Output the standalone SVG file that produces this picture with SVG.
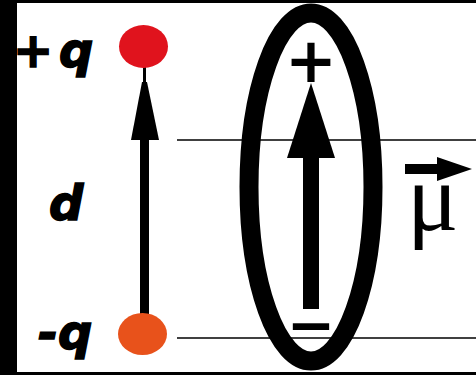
<svg xmlns="http://www.w3.org/2000/svg" width="476" height="375" viewBox="0 0 476 375">
  <style>
    .lbl { font-family: "DejaVu Sans", "Liberation Sans", sans-serif; font-weight: bold; font-style: italic; font-size: 48px; fill: #000; stroke: #000; stroke-width: 1.5px; }
    .sign { font-family: "DejaVu Sans", "Liberation Sans", sans-serif; font-weight: bold; fill: #000; text-anchor: middle; }
    .rule { stroke: #000; stroke-width: 1.5; fill: none; }
    .blk { fill: #000; }
  </style>
  <rect x="0" y="0" width="476" height="375" fill="#fff"/>
  <g id="frame">
    <rect class="blk" x="0" y="0" width="17" height="375"/>
    <rect class="blk" x="0" y="0" width="476" height="3"/>
    <rect class="blk" x="0" y="372" width="476" height="3"/>
  </g>
  <g id="guides">
    <line class="rule" x1="177" y1="140" x2="476" y2="140"/>
    <line class="rule" x1="177" y1="338" x2="476" y2="338"/>
  </g>
  <g id="connectors">
    <rect class="blk" x="143" y="66" width="3" height="16"/>
    <polygon class="blk" points="142,82 147,82 159,140 131,140"/>
    <rect class="blk" x="140" y="139" width="9" height="178"/>
    <rect class="blk" x="303" y="155" width="16" height="154"/>
    <polygon class="blk" points="311,83 335,158 287,158"/>
    <rect class="blk" x="405" y="164" width="34" height="10"/>
    <polygon class="blk" points="437,157 472,169 437,181"/>
  </g>
  <g id="charge-pos">
    <ellipse cx="143.5" cy="46.5" rx="24.5" ry="21.5" fill="#e0131d"/>
    <text class="lbl" x="13" y="67">+<tspan x="59">q</tspan></text>
  </g>
  <g id="charge-neg">
    <ellipse cx="142.5" cy="334" rx="24.5" ry="21" fill="#e8521b"/>
    <text class="lbl" x="38" y="349">-<tspan x="58">q</tspan></text>
  </g>
  <g id="separation">
    <text class="lbl" x="49" y="220">d</text>
  </g>
  <g id="dipole">
    <ellipse cx="311" cy="187" rx="62" ry="174" fill="none" stroke="#000" stroke-width="19"/>
    <text class="sign" x="311" y="82" font-size="62">+</text>
    <text class="sign" x="311" y="345" font-size="58">−</text>
  </g>
  <g id="moment">
    <text x="407" y="230" font-family="'Liberation Serif', serif" font-size="96" fill="#000">μ</text>
  </g>
</svg>
